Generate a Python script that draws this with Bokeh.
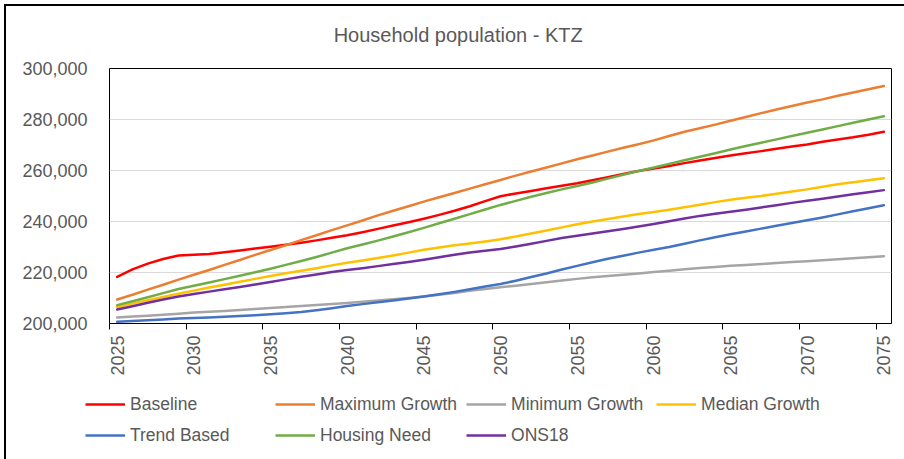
import math
from bokeh.plotting import figure
from bokeh.layouts import column
from bokeh.models import (Range1d, LinearAxis, FixedTicker, NumeralTickFormatter,
                          PrintfTickFormatter, Legend, LegendItem, Grid, ColumnDataSource,
                          Label)
from bokeh.embed import file_html
from bokeh.resources import INLINE

years = list(range(2025, 2076))

baseline = [218.3, 221.2, 223.5, 225.3, 226.7, 227.0, 227.3, 227.9, 228.6, 229.4,
            230.1, 230.9, 231.7, 232.6, 233.6, 234.6, 235.8, 237.1, 238.4, 239.7,
            241.1, 242.6, 244.2, 246.0, 248.0, 249.9, 251.0, 252.0, 253.0, 254.0,
            255.0, 256.2, 257.4, 258.6, 259.8, 260.8, 261.8, 262.9, 263.9, 264.9,
            265.9, 266.8, 267.6, 268.5, 269.4, 270.2, 271.3, 272.2, 273.0, 274.0, 275.2]
maximum = [209.4, 211.3, 213.3, 215.2, 217.2, 219.1, 221.0, 223.0, 224.9, 226.9,
           228.8, 230.7, 232.7, 234.6, 236.6, 238.5, 240.4, 242.4, 244.2, 246.0,
           247.8, 249.5, 251.2, 252.9, 254.6, 256.3, 258.0, 259.6, 261.2, 262.8,
           264.4, 265.9, 267.4, 268.9, 270.3, 271.8, 273.5, 275.2, 276.6, 278.0,
           279.5, 281.0, 282.5, 283.9, 285.3, 286.7, 287.9, 289.3, 290.6, 291.9, 293.1]
minimum = [202.4, 202.7, 203.0, 203.4, 203.8, 204.3, 204.6, 204.9, 205.3, 205.7,
           206.1, 206.5, 206.9, 207.3, 207.6, 208.0, 208.5, 209.0, 209.5, 210.0,
           210.6, 211.3, 212.0, 212.8, 213.5, 214.2, 214.8, 215.5, 216.2, 216.9,
           217.5, 218.1, 218.6, 219.1, 219.6, 220.2, 220.7, 221.3, 221.8, 222.2,
           222.6, 222.9, 223.3, 223.7, 224.1, 224.4, 224.8, 225.2, 225.6, 226.0, 226.4]
median = [206.5, 207.8, 209.1, 210.4, 211.7, 212.9, 214.1, 215.2, 216.4, 217.5,
          218.6, 219.7, 220.7, 221.7, 222.8, 223.8, 224.7, 225.7, 226.7, 227.8,
          228.9, 229.8, 230.7, 231.4, 232.2, 233.0, 234.1, 235.3, 236.5, 237.7,
          238.9, 240.0, 241.0, 242.0, 242.9, 243.7, 244.6, 245.6, 246.6, 247.6,
          248.5, 249.3, 250.0, 250.9, 251.8, 252.6, 253.6, 254.6, 255.4, 256.2, 257.0]
trend = [200.7, 201.0, 201.3, 201.6, 202.0, 202.2, 202.4, 202.6, 202.9, 203.2,
         203.6, 204.0, 204.5, 205.2, 206.0, 206.9, 207.6, 208.3, 209.0, 209.8,
         210.6, 211.5, 212.4, 213.4, 214.5, 215.5, 216.8, 218.2, 219.6, 221.2,
         222.6, 224.0, 225.4, 226.6, 227.8, 228.9, 230.0, 231.3, 232.6, 233.8,
         235.0, 236.1, 237.2, 238.3, 239.4, 240.5, 241.6, 242.8, 244.0, 245.2, 246.4]
housing = [207.2, 208.7, 210.3, 211.9, 213.5, 214.8, 216.1, 217.4, 218.7, 220.1,
           221.5, 223.0, 224.5, 226.1, 227.8, 229.5, 231.0, 232.5, 234.1, 235.8,
           237.5, 239.3, 241.1, 242.9, 244.7, 246.5, 248.1, 249.7, 251.2, 252.6,
           253.9, 255.3, 256.8, 258.3, 259.8, 261.2, 262.6, 264.0, 265.4, 266.8,
           268.2, 269.6, 270.9, 272.2, 273.5, 274.8, 276.1, 277.4, 278.7, 280.0, 281.3]
ons18 = [205.5, 206.8, 208.1, 209.4, 210.6, 211.6, 212.5, 213.4, 214.3, 215.3,
         216.3, 217.3, 218.3, 219.2, 220.2, 221.0, 221.7, 222.5, 223.3, 224.1,
         225.0, 226.0, 227.0, 227.8, 228.5, 229.2, 230.2, 231.3, 232.4, 233.5,
         234.4, 235.3, 236.2, 237.1, 238.0, 239.0, 240.1, 241.2, 242.2, 243.0,
         243.8, 244.6, 245.5, 246.4, 247.3, 248.1, 248.9, 249.8, 250.7, 251.5, 252.3]

series_names = ["Baseline", "Maximum Growth", "Minimum Growth", "Median Growth",
                "Trend Based", "Housing Need", "ONS18"]
series_values = [baseline, maximum, minimum, median, trend, housing, ons18]
series_colors = ["#FF0000", "#ED7D31", "#A5A5A5", "#FFC000", "#4472C4", "#70AD47", "#7030A0"]

y_ticks = [200000, 220000, 240000, 260000, 280000, 300000]
x_label_years = [2025, 2030, 2035, 2040, 2045, 2050, 2055, 2060, 2065, 2070, 2075]
title_text = "Household population - KTZ"

FONT = "Liberation Sans"
TXT = "#595959"
W = 898


def blank(height):
    f = figure(width=W, height=height, output_backend="svg", toolbar_location=None,
               title=None, x_range=Range1d(0, 1), y_range=Range1d(0, 1),
               x_axis_location=None, y_axis_location=None,
               min_border_left=0, min_border_right=0, min_border_top=0,
               min_border_bottom=0)
    f.frame_align = False
    f.xgrid.grid_line_color = None
    f.ygrid.grid_line_color = None
    f.outline_line_color = None
    f.background_fill_color = "white"
    f.border_fill_color = "white"
    return f


# ---- title strip ----
pt = blank(50)
pt.add_layout(Label(x=0.503, y=0.44, text=title_text, text_align="center",
                    text_baseline="middle", text_font=FONT, text_font_size="20px",
                    text_color=TXT))

# ---- main chart ----
p = figure(width=W, height=335, output_backend="svg", toolbar_location=None,
           title=None,
           x_range=Range1d(years[0] - 0.5, years[-1] + 0.5),
           y_range=Range1d(y_ticks[0], y_ticks[-1]),
           x_axis_location=None, y_axis_location=None,
           min_border_left=103, min_border_right=13, min_border_top=12,
           min_border_bottom=68)
p.frame_align = False
p.xgrid.grid_line_color = None
p.ygrid.grid_line_color = None
p.outline_line_color = "#000000"
p.outline_line_width = 1
p.background_fill_color = "white"
p.border_fill_color = "white"

yticker = FixedTicker(ticks=y_ticks)
yaxis = LinearAxis(ticker=yticker, formatter=NumeralTickFormatter(format="0,0"))
yaxis.axis_line_color = None
yaxis.major_tick_in = 0
yaxis.major_tick_out = 0
yaxis.minor_tick_line_color = None
yaxis.major_label_standoff = 22
yaxis.major_label_text_font = FONT
yaxis.major_label_text_font_size = "18px"
yaxis.major_label_text_color = TXT
p.add_layout(yaxis, "left")

p.add_layout(Grid(dimension=1, ticker=yticker, grid_line_color="#D9D9D9",
                  grid_line_width=1))

xticker = FixedTicker(ticks=x_label_years, minor_ticks=[y - 0.5 for y in x_label_years])
xaxis = LinearAxis(ticker=xticker, formatter=PrintfTickFormatter(format="%d"))
xaxis.axis_line_color = "#000000"
xaxis.major_tick_line_color = None
xaxis.major_tick_in = 0
xaxis.major_tick_out = 0
xaxis.minor_tick_line_color = "#000000"
xaxis.minor_tick_in = 0
xaxis.minor_tick_out = 6
xaxis.major_label_orientation = math.pi / 2
xaxis.major_label_standoff = 6
xaxis.major_label_text_font = FONT
xaxis.major_label_text_font_size = "18px"
xaxis.major_label_text_color = TXT
p.add_layout(xaxis, "below")

for vals, col in zip(series_values, series_colors):
    src = ColumnDataSource(dict(x=years, y=[v * 1000 for v in vals]))
    p.line("x", "y", source=src, line_color=col, line_width=2.5,
           line_join="round", line_cap="round")

# ---- legend strip ----
pl = blank(68)
items = []
for name, vals, col in zip(series_names, series_values, series_colors):
    # same series, out of this strip's view; only its legend swatch is seen
    r = pl.line(x=years, y=vals, line_color=col, line_width=2.5)
    items.append(LegendItem(label=name, renderers=[r]))

legend = Legend(items=items, orientation="horizontal", ncols=4, location=(79, 13))
legend.glyph_width = 40
legend.glyph_height = 22
legend.label_height = 22
legend.label_width = 136
legend.label_standoff = 5
legend.spacing = 9
legend.padding = 0
legend.margin = 0
legend.border_line_color = None
legend.background_fill_alpha = 0
legend.label_text_font = FONT
legend.label_text_font_size = "17.5px"
legend.label_text_color = TXT
pl.add_layout(legend, "center")

layout = column(pt, p, pl, spacing=0)
layout.styles = {"margin-left": "4px", "margin-top": "4px",
                 "border-left": "2px solid #000", "border-top": "2px solid #000"}

open("out.html", "w").write(file_html(layout, INLINE))
